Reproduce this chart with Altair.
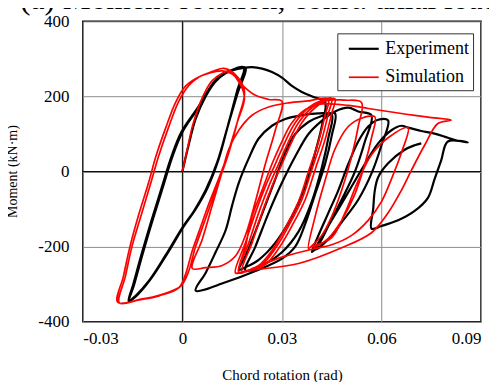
import altair as alt
import pandas as pd

# ---------------- data (rotation [rad], moment [kN·m]) ----------------
exp_path = [
    (0.000, 0), (0.002, 75), (0.004, 140), (0.007, 200), (0.010, 240), (0.013, 262), (0.016, 272), (0.019, 277),
    (0.0165, 205), (0.0135, 115), (0.0105, 25), (0.007, -50), (0.0035, -105), (0.000, -149), (-0.005, -222),
    (-0.010, -290), (-0.014, -330), (-0.016, -344),
    (-0.0145, -300), (-0.012, -220), (-0.009, -130), (-0.006, -45), (-0.003, 40), (0.000, 105), (0.005, 172),
    (0.010, 243), (0.014, 267), (0.0185, 278),
    (0.0165, 215), (0.0138, 125), (0.011, 35), (0.0075, -45), (0.004, -100), (0.0005, -145), (-0.0045, -218),
    (-0.0095, -286), (-0.0135, -328), (-0.0162, -346),
    (-0.0148, -300), (-0.0123, -220), (-0.0093, -130), (-0.0063, -45), (-0.0033, 40), (-0.0003, 105),
    (0.0048, 172), (0.0098, 241), (0.0138, 266), (0.0185, 276),
    (0.021, 278), (0.024, 274), (0.027, 265), (0.030, 250), (0.033, 228), (0.036, 212), (0.040, 197), (0.043, 186),
    (0.042, 120), (0.040, 50), (0.037, -40), (0.033, -120), (0.028, -190), (0.023, -235), (0.019, -255),
    (0.017, -262),
    (0.019, -225), (0.022, -160), (0.025, -90), (0.028, -20), (0.031, 50), (0.034, 100), (0.038, 132),
    (0.042, 148), (0.046, 155),
    (0.045, 95), (0.043, 20), (0.040, -60), (0.037, -140), (0.034, -200), (0.030, -232), (0.022, -265),
    (0.013, -295), (0.004, -317),
    (0.007, -270), (0.010, -215), (0.013, -157), (0.015, -90), (0.017, -30), (0.020, 35), (0.023, 88), (0.027, 122),
    (0.031, 140), (0.036, 150), (0.041, 155), (0.045, 152),
    (0.044, 90), (0.042, 10), (0.039, -80), (0.035, -160), (0.030, -215), (0.024, -250), (0.019, -264),
    (0.022, -200), (0.026, -110), (0.030, -30), (0.034, 40), (0.038, 100), (0.042, 135), (0.046, 160), (0.050, 170),
    (0.053, 160), (0.057, 150),
    (0.055, 80), (0.052, 0), (0.048, -75), (0.044, -145), (0.041, -195), (0.039, -214),
    (0.041, -170), (0.044, -110), (0.047, -50), (0.050, 20), (0.053, 80), (0.056, 120), (0.059, 138), (0.062, 136),
    (0.060, 70), (0.057, -5), (0.053, -75), (0.048, -135), (0.044, -180), (0.040, -208),
    (0.043, -160), (0.047, -100), (0.051, -40), (0.055, 20), (0.059, 75), (0.063, 110), (0.066, 122), (0.068, 117),
    (0.072, 108), (0.076, 101), (0.080, 90), (0.083, 82), (0.086, 78),
    (0.080, 80), (0.078, 30), (0.076, -20), (0.074, -70), (0.070, -105), (0.065, -130), (0.060, -145), (0.057, -152),
    (0.0575, -100), (0.058, -50), (0.059, -15), (0.062, 22), (0.067, 58), (0.070, 70), (0.072, 75),
]

sim_path = [
    (0.000, 0), (0.0015, 60), (0.003, 120), (0.005, 175), (0.007, 215), (0.009, 242), (0.012, 262), (0.014, 268),
    (0.016, 252), (0.0187, 200),
    (0.0165, 130), (0.013, 30), (0.010, -40), (0.008, -85), (0.005, -160), (0.003, -210), (0.001, -272),
    (-0.001, -309), (-0.007, -331), (-0.013, -342), (-0.019, -350),
    (-0.0172, -280), (-0.0152, -200), (-0.0122, -110), (-0.0095, -30), (-0.0072, 40), (-0.0042, 117),
    (-0.0012, 185), (0.0018, 228), (0.005, 252), (0.009, 266), (0.0125, 275), (0.0155, 262), (0.0187, 215),
    (0.0168, 140), (0.0138, 45), (0.0108, -30), (0.0088, -80), (0.0058, -155), (0.0038, -205), (0.0018, -268),
    (-0.0005, -305), (-0.0065, -328), (-0.0125, -340), (-0.0195, -348),
    (-0.0178, -280), (-0.0158, -200), (-0.0130, -110), (-0.0102, -30), (-0.0080, 40), (-0.0050, 117),
    (-0.0020, 185), (0.0010, 228), (0.0045, 250), (0.008, 262), (0.012, 268), (0.015, 260), (0.0187, 225),
    (0.022, 203), (0.026, 192), (0.030, 187),
    (0.028, 110), (0.025, 20), (0.022, -80), (0.019, -170), (0.016, -225), (0.012, -250), (0.007, -256), (0.003, -258),
    (0.006, -180), (0.009, -90), (0.012, 0), (0.014, 60), (0.017, 110), (0.021, 150), (0.026, 172), (0.032, 183),
    (0.038, 188), (0.044, 194),
    (0.043, 150), (0.041, 80), (0.038, 0), (0.035, -80), (0.031, -150), (0.027, -210), (0.023, -250), (0.019, -265),
    (0.016, -270),
    (0.019, -190), (0.022, -110), (0.025, -40), (0.028, 20), (0.031, 80), (0.034, 130), (0.038, 170), (0.042, 190),
    (0.045, 195),
    (0.044, 155), (0.042, 85), (0.039, 5), (0.036, -75), (0.032, -145), (0.028, -205), (0.024, -248), (0.020, -263),
    (0.017, -268),
    (0.020, -190), (0.023, -110), (0.026, -40), (0.029, 20), (0.032, 80), (0.035, 130), (0.039, 170), (0.043, 190),
    (0.046, 194),
    (0.045, 155), (0.043, 85), (0.040, 5), (0.037, -75), (0.033, -145), (0.029, -205), (0.025, -248), (0.021, -262),
    (0.018, -266),
    (0.021, -190), (0.024, -110), (0.027, -40), (0.030, 20), (0.033, 80), (0.036, 130), (0.040, 170), (0.044, 190),
    (0.049, 190), (0.054, 184),
    (0.053, 120), (0.051, 40), (0.048, -50), (0.045, -120), (0.042, -170), (0.039, -198), (0.038, -205),
    (0.040, -120), (0.043, -24), (0.046, 60), (0.050, 120), (0.054, 142), (0.058, 146),
    (0.057, 90), (0.055, 20), (0.052, -60), (0.048, -130), (0.044, -178), (0.041, -196), (0.039, -200),
    (0.045, -176), (0.049, -110), (0.053, -24), (0.057, 45), (0.062, 90), (0.068, 117),
    (0.066, 50), (0.063, -20), (0.060, -80), (0.056, -130), (0.051, -170), (0.045, -195), (0.040, -205),
    (0.030, -228), (0.022, -255), (0.017, -270),
    (0.019, -200), (0.021, -120), (0.024, -50), (0.027, 20), (0.030, 80), (0.033, 130), (0.037, 165), (0.041, 179),
    (0.044, 181), (0.050, 176), (0.056, 168), (0.062, 160), (0.068, 152), (0.074, 145), (0.081, 137),
    (0.077, 128), (0.073, 70), (0.069, 3), (0.066, -50), (0.062, -110), (0.057, -163), (0.048, -203),
    (0.035, -245), (0.020, -264), (0.016, -272),
]

series_names = ["Experiment", "Simulation"]
series_colors = ["#000000", "#ff0000"]
x_ticks = [-0.03, 0.0, 0.03, 0.06, 0.09]
y_ticks = [-400, -200, 0, 200, 400]
title_text = "(a) Moment-rotation, const. axial load"
x_title = "Chord rotation (rad)"
y_title = "Moment (kN·m)"

rows = []
for name, path in zip(series_names, [exp_path, sim_path]):
    for i, (xv, yv) in enumerate(path):
        rows.append({"series": name, "i": i, "rot": xv, "mom": yv})
df = pd.DataFrame(rows)

FONT = "Liberation Serif"
W, H = 399, 301

xscale = alt.Scale(domain=[-0.03, 0.09], nice=False, zero=False)
yscale = alt.Scale(domain=[-400, 400], nice=False)

x_axis = alt.Axis(values=x_ticks, grid=True, gridColor="#8c8c8c", gridWidth=1, ticks=False, domain=False,
                  labelFont=FONT, labelFontSize=17, labelColor="black", labelPadding=9,
                  labelExpr="datum.value == 0 ? '0' : (datum.value < 0 ? '-' : '') + format(abs(datum.value), '.2f')",
                  title=x_title, titleFont=FONT, titleFontSize=15, titleFontWeight="normal", titleColor="black",
                  titleY=58, titleBaseline="alphabetic")
y_axis = alt.Axis(values=y_ticks, grid=True, gridColor="#8c8c8c", gridWidth=1, ticks=False, domain=False,
                  labelFont=FONT, labelFontSize=17, labelColor="black", labelPadding=14,
                  labelExpr="(datum.value < 0 ? '-' : '') + abs(datum.value)",
                  title=y_title, titleFont=FONT, titleFontSize=14, titleFontWeight="normal", titleColor="black",
                  titleX=-70, titleY=150, titleAngle=270, titleAlign="center", titleBaseline="middle")

lines = alt.Chart(df).mark_line(interpolate="catmull-rom", strokeJoin="round").encode(
    x=alt.X("rot:Q", scale=xscale, axis=x_axis),
    y=alt.Y("mom:Q", scale=yscale, axis=y_axis),
    color=alt.Color("series:N", scale=alt.Scale(domain=series_names, range=series_colors),
                    legend=alt.Legend(title=None, orient="none", legendX=255, legendY=12,
                                      fillColor="white", strokeColor="#333333", padding=4,
                                      symbolType="M-0.4,0H2.6", symbolSize=400, symbolStrokeWidth=2.2,
                                      labelFont=FONT, labelFontSize=18, labelColor="black",
                                      labelOffset=21, rowPadding=8)),
    strokeWidth=alt.StrokeWidth("series:N", scale=alt.Scale(domain=series_names, range=[2.2, 1.7]), legend=None),
    order=alt.Order("i:Q"),
)

zero_x = alt.Chart(pd.DataFrame({"v": [0.0]})).mark_rule(color="black", strokeWidth=1).encode(
    x=alt.X("v:Q", scale=xscale))
zero_y = alt.Chart(pd.DataFrame({"v": [0]})).mark_rule(color="black", strokeWidth=1).encode(
    y=alt.Y("v:Q", scale=yscale))

title = alt.Chart(pd.DataFrame({"t": [title_text]})).mark_text(
    font=FONT, fontSize=31.5, align="left", baseline="alphabetic", color="black"
).encode(text="t:N", x=alt.value(-63), y=alt.value(-12))

chart = alt.layer(zero_x, zero_y, lines, title).properties(
    width=W, height=H,
    autosize=alt.AutoSizeParams(type="none"),
    padding={"left": 75, "top": 13, "right": 8, "bottom": 60},
).configure(background="white", font=FONT).configure_view(stroke="black", strokeWidth=1.5)

chart.save("out.html", embed_options={"renderer": "svg", "actions": False})
